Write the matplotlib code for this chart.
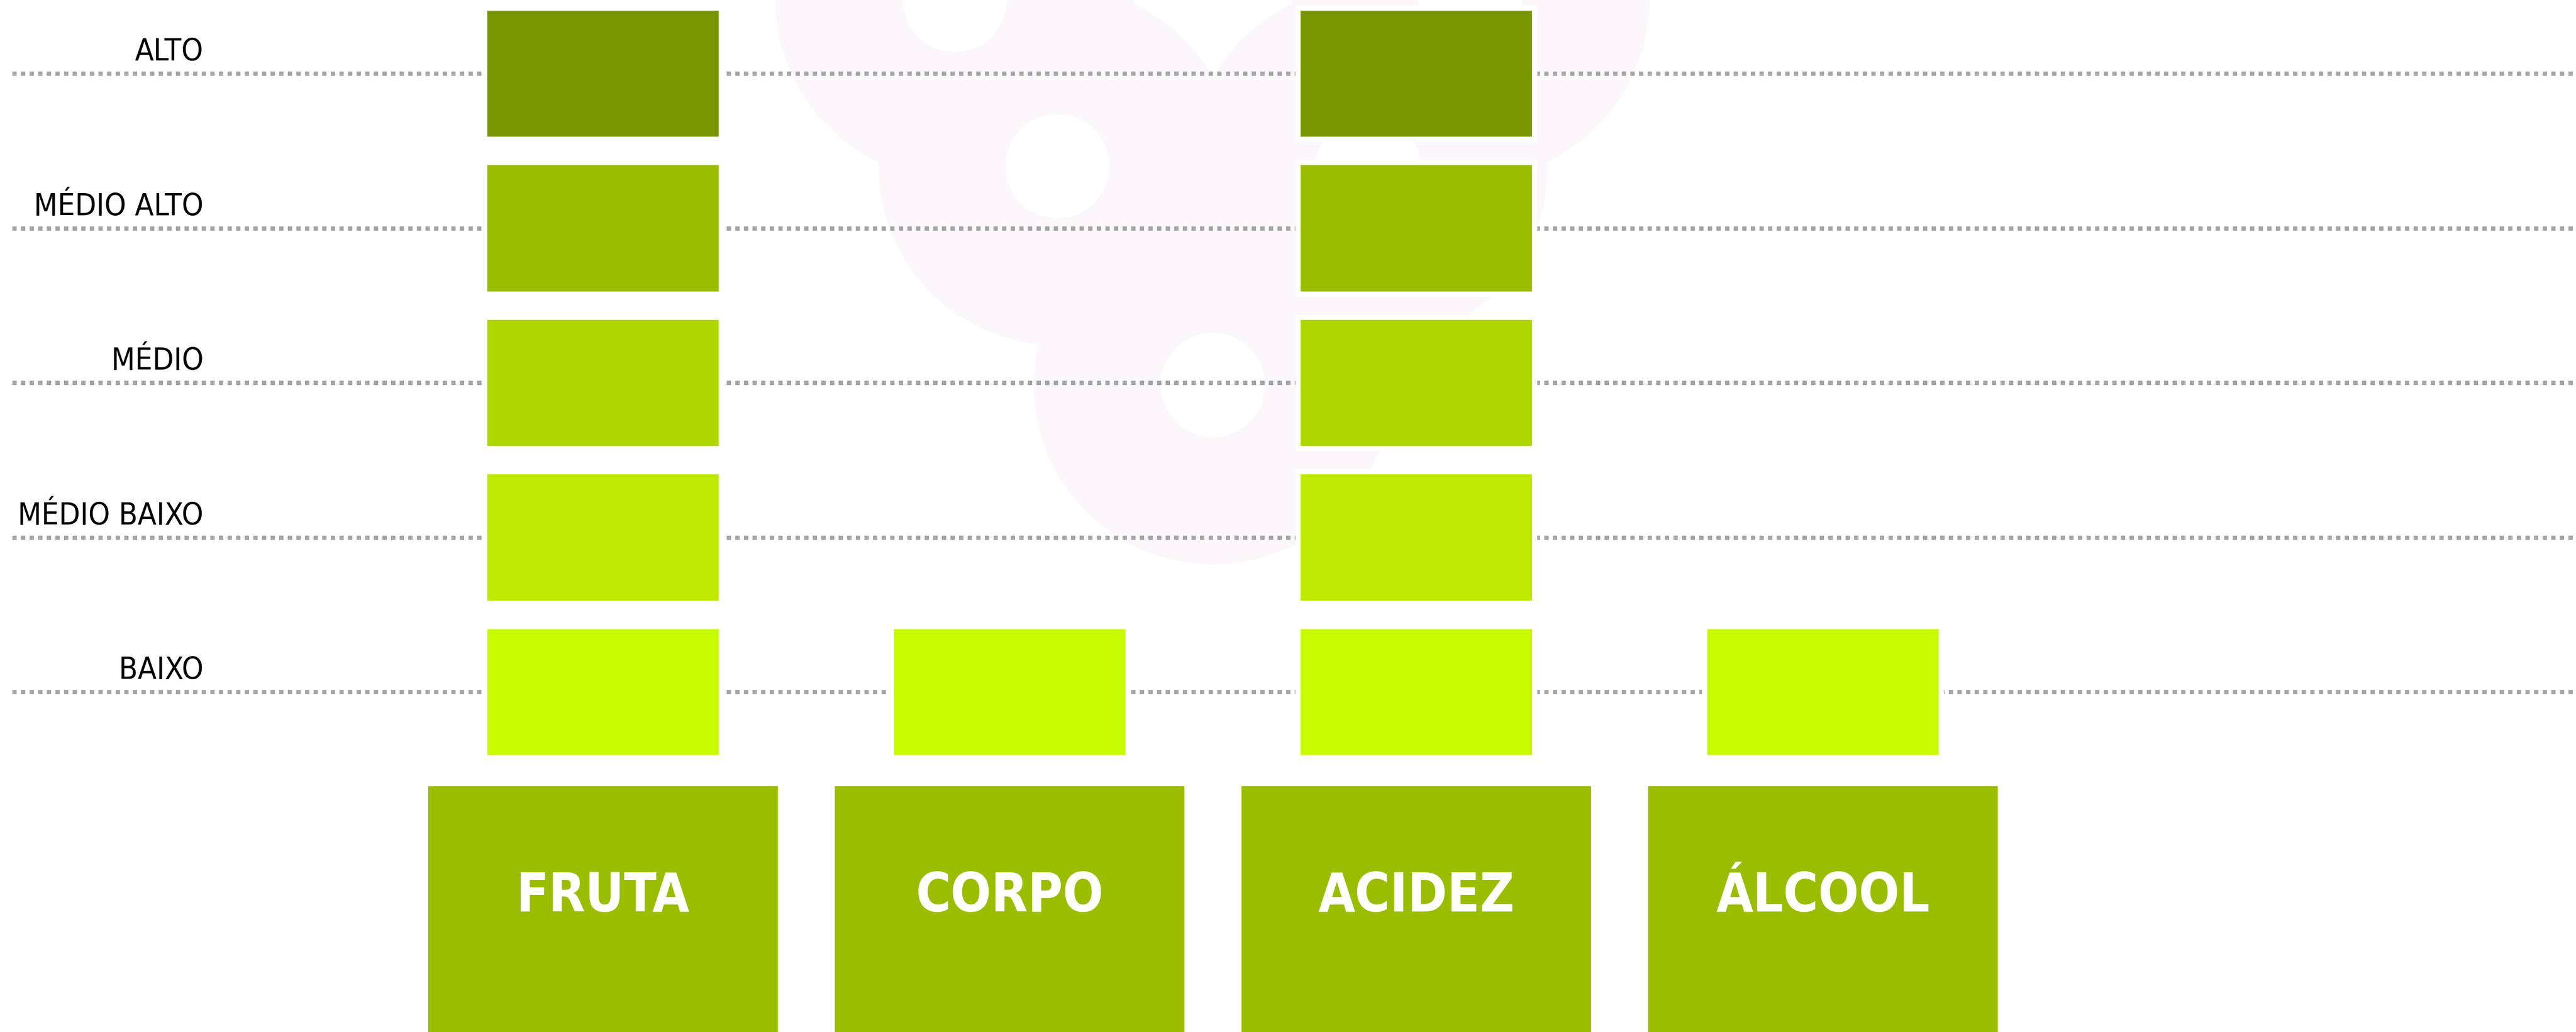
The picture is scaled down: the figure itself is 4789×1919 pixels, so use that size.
import matplotlib

matplotlib.use("Agg")
import matplotlib.pyplot as plt
from matplotlib.patches import Wedge, Circle

# level scale, bottom to top
levels = ["BAIXO", "MÉDIO BAIXO", "MÉDIO", "MÉDIO ALTO", "ALTO"]
level_colors = ["#c8fa00", "#bdea00", "#afd800", "#9bbd00", "#789600"]

categories = ["FRUTA", "CORPO", "ACIDEZ", "ÁLCOOL"]
scores = [5, 1, 5, 1]   # 1 = BAIXO ... 5 = ALTO

BOX_COLOR = "#9bbd00"
LINE_COLOR = "#a4a6a6"
WM_COLOR = "#fbf7fa"

W, H, DPI = 4789, 1919, 100
plt.rcParams["lines.scale_dashes"] = False
FONT = ["DejaVu Sans"]

# pixel layout: level 3 sits at y=712, 287.5 px per level; categories 756 px apart
Y3, DY = 712, 287.5
X0, DX = 1121, 756

fig = plt.figure(figsize=(W / DPI, H / DPI), dpi=DPI)
fig.patch.set_facecolor("white")

# faint grape watermark behind everything (pixel space)
bg = fig.add_axes([0, 0, 1, 1], zorder=0)
bg.set_xlim(0, W)
bg.set_ylim(H, 0)
bg.set_axis_off()
grapes = [(1775, 0), (2733, 0), (1966, 309), (2544, 309), (2255, 716)]
for cx, cy in grapes:
    bg.add_patch(Wedge((cx, cy), 333, 0, 360, width=333, color=WM_COLOR, lw=0))
for cx, cy in grapes:
    bg.add_patch(Circle((cx, cy), 97, color="white", lw=0))

# chart in data space: x = category index, y = level (1..5)
ax = fig.add_axes([0, 0, 1, 1], zorder=1)
ax.patch.set_alpha(0)
ax.set_axis_off()
xl = -X0 / DX
ax.set_xlim(xl, xl + W / DX)
ax.set_ylim(3 - (H - Y3) / DY, 3 + Y3 / DY)

for k, name in enumerate(levels, start=1):
    ax.axhline(k, xmin=23 / W, color=LINE_COLOR, lw=5.8,
               linestyle=(0, (5.76, 5.76)), zorder=1)
    ax.text(xl + 378 / DX, k + 0.083, name, ha="right", va="baseline",
            fontsize=41, family=FONT, fontstretch="condensed",
            fontweight="light", color="black", zorder=3)

for i, (cat, s) in enumerate(zip(categories, scores)):
    for k in range(1, s + 1):
        ax.bar(i, 0.852, bottom=k - 0.426, width=0.583,
               color=level_colors[k - 1], edgecolor="white", linewidth=7,
               zorder=2)
    ax.bar(i, 3.0, bottom=0.391 - 3.0, width=0.86, color=BOX_COLOR,
           linewidth=0, zorder=2)
    ax.text(i, -0.322, cat, ha="center", va="center", fontsize=71,
            family=FONT, fontstretch="condensed", fontweight="bold",
            color="white", zorder=3)

fig.savefig("out.png", dpi=DPI, facecolor="white")
